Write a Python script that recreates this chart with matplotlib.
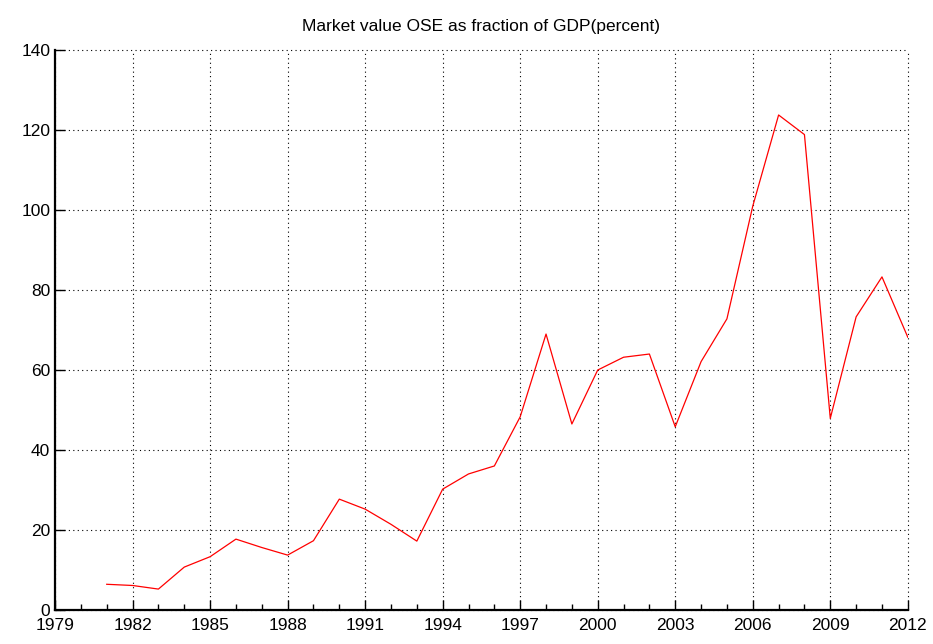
import numpy as np
import matplotlib.pyplot as plt

plt.rcParams['font.family'] = ['Liberation Sans', 'DejaVu Sans']

years = np.arange(1981, 2013)
values = [6.4, 6.1, 5.2, 10.7, 13.3, 17.7, 15.6, 13.7, 17.3, 27.7,
          25.2, 21.4, 17.2, 30.2, 34.0, 36.0, 48.3, 69.0, 46.5, 60.0,
          63.2, 64.0, 45.8, 62.1, 72.8, 101.0, 123.8, 118.9, 47.9, 73.3,
          83.3, 68.2]
xticks = np.arange(1979, 2013, 3)
yticks = np.arange(0, 141, 20)

fig = plt.figure(figsize=(9.33, 6.44), dpi=100)
ax = fig.add_axes([0.059, 0.053, 0.914, 0.869])

ax.plot(years, values, color='red', linewidth=0.9)

ax.set_xlim(1979, 2012)
ax.set_ylim(0, 140)
ax.set_xticks(xticks)
ax.set_xticks(np.arange(1979, 2013, 1), minor=True)
ax.set_yticks(yticks)

ax.grid(True, which='major', color='black', linestyle=(0, (1, 3)), linewidth=0.8)
ax.spines['top'].set_visible(False)
ax.spines['right'].set_visible(False)
ax.spines['left'].set_linewidth(1.6)
ax.spines['bottom'].set_linewidth(1.6)
for ln in ax.get_xgridlines() + ax.get_ygridlines():
    ln.set_clip_on(False)

ax.tick_params(axis='both', which='major', direction='in', length=7, width=1, labelsize=12.5)
ax.tick_params(axis='x', which='minor', direction='in', length=4, width=1)
ax.tick_params(axis='x', pad=6)

ax.set_title("Market value OSE as fraction of GDP(percent)", fontsize=12.5, pad=14)

fig.savefig("out.png", dpi=100)
